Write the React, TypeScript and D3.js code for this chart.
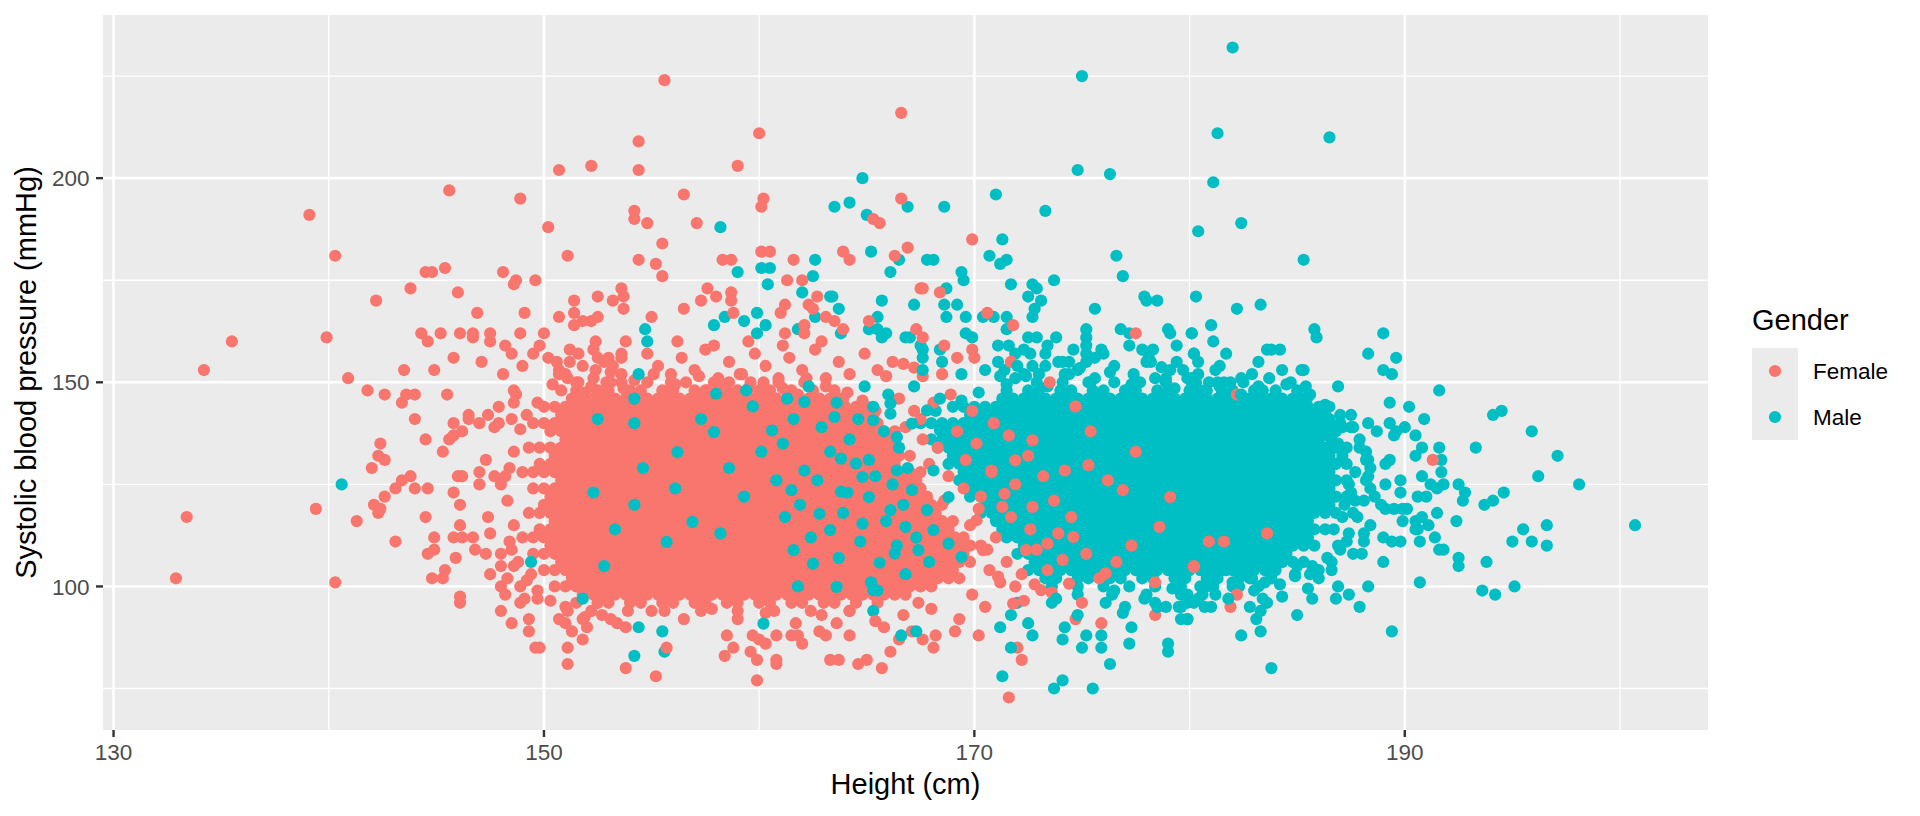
import * as d3 from 'd3'
import {useEffect, useRef} from 'react'

// scattered points read one by one: [height (cm), systolic (mmHg)]
const femaleScattered: [number, number][] = [
  [155.6,224],[154.4,209],[150.7,202],[152.2,203],[154.4,202],[145.6,197],[148.9,195],[139.1,191],[150.2,188],[154.2,192],
  [154.2,190],[154.8,189],[155.5,184],[140.3,181],[151.1,181],[154.4,180],[155.2,179],[155.5,176],[144.5,177],[144.8,177],
  [145.4,178],[148.1,177],[148.7,175],[148.6,174],[149.6,175],[143.8,173],[146,172],[142.2,170],[146.9,167],[149.1,167],
  [151.4,170],[152.5,171],[153.2,170],[153.6,173],[153.7,171],[153.7,168],[150.7,166],[151.4,167],[151.4,164],[151.8,165],
  [152.2,165],[152.5,166],[155,166],[135.5,160],[134.2,153],[139.9,161],[144.3,162],[144.6,160],[145.2,162],[146.1,162],
  [146.7,162],[146.7,161],[147.5,162],[147.5,160],[148.9,162],[150,162],[148.2,159],[148.5,157],[149.8,159],[149.5,157],
  [149,154],[148.1,152],[145.8,156],[147.1,155],[143.5,153],[144.9,153],[140.9,151],[150.2,156],[150.6,155],[151.2,158],
  [151.6,157],[151.2,155],[151.8,154],[152.4,160],[152.3,158],[152.5,156],[152.8,155],[153.2,154],[153.6,157],[153.6,156],
  [153.8,160],[152.3,151],[153.1,150],[150.7,153],[150.7,152],[151,152],[151.5,150],
  [141.8,148],[142.6,147],[143.6,147],[144,147],[143.4,145],[145.5,147],[144,141],[148.6,148],[148.7,147],[148.6,145],
  [147.9,144],[147.4,142],[147.9,140],[147.7,139],[148.5,141],[147,140],[146.5,142],[146.5,141],[145.8,140],[146.2,138],
  [145.6,136],[145.8,137],[145.3,133],[144.5,136],[142.4,135],[142.3,132],[142.6,131],[142,129],[143.8,127],[143.4,126],
  [143.1,124],[144,124],[144.6,124],[142.6,122],[142.1,120],[142.4,119],[142.3,118],[141.3,116],[139.4,119],[143.1,111],
  [133.4,117],[132.9,102],[140.3,101],[144.5,117],[144.9,112],[144.9,109],[144.6,108],[144.8,102],[145.3,102],[145.4,104],
  [145.9,107],[146.1,120],[146.1,115],[145.8,123],[146,127],[146.2,127],[147,125],[147,128],[147.3,131],[147.4,117],
  [146.7,112],[145.8,112],[146.2,112],[146.8,109],[147.3,108],[147.5,113],[147.7,127],[148.2,127],[148,125],[147.5,103],
  [146.1,96],[146.1,97.5],[148,108],[148,105],[148.6,105],[148.5,109],[148.3,102],[148,100],[148.2,98],[148,94],
  [148.5,91],[148.9,100],[149.1,97],[148.9,96],[149.3,92],[149.3,89],[149.6,85],[149.8,85],[149.4,103],[149.7,97],
  [151.1,85],[151.1,81],[150.7,92],[151,91],[151.3,89],[151.8,92],[152,90],[151.8,87],[151.1,94],[152.5,96],
  [152.7,93],[153.1,92],[153.8,90],[153.8,80],[155.2,78],
  [160,211],[166.6,216],[159,203],[156.5,196],[160.2,195],[160.1,193],[166.6,195],[165.3,190],[165.6,189],[157.1,189],
  [169.9,185],[160.1,182],[160.5,182],[158.3,180],[158.7,180],[161.6,180],[163.9,182],[164.2,180],[166.3,181],[166.9,183],
  [161.3,175],[162,175],[167.5,173],[167.6,173],[168.4,172],[170.6,167],[171.8,164],[157.6,173],[158,171],[158.7,172],
  [158.7,170],[158.8,167],[156.5,168],[157.3,170],[161,167],[161.2,169],[162.7,171],[162.3,169],[162.5,168],[162.1,164],
  [162.1,162],[161.2,162],[163.1,166],[163.5,165],[163.9,163],[165.1,165],[167.3,163],[167.6,161],[168.6,159],[169.9,158],
  [170,156],[177.5,162],[165.9,151.5],[166.7,154.5],[167.2,153.6],[167.6,151.5],[173.5,150],[171.7,155],
  [154.8,157],[155.3,154],[155.9,152],[156.4,156],[157,153],[157.5,158],[158.1,151],[158.6,155],[159.2,152],[159.8,157],
  [160.3,154],[160.9,151],[161.4,156],[162,153],[162.6,158],[163.1,151],[163.7,155],[164.2,152],[164.9,157],[165.5,153],
  [152.4,153],[153,156],[153.6,152],[156.2,160],[157.9,159],[159.5,160],[161.1,159],[162.9,160],[166.2,155],[168.5,152],
  [169.2,156],
  [159.9,77],[158.4,83],[158.8,85],[158.5,88],[159.6,84],[159.9,82],[160.8,82],[160.8,81],[159.7,88],[160,87],
  [160.3,86],[160.8,88],[161.5,88],[162,86],[161.8,88],[163.3,82],[163.7,82],[164.6,81],[165,82],[165.7,80],
  [166.1,84],[165.8,90],[164.2,88],[163.6,91],[162.8,89],[163.1,88],[166.5,87],[167.6,87],[168.1,85],[168.2,88],
  [167.1,89],[169.1,89],[170.2,88],[155.7,85],[171.6,72.8],[172,85],[172.2,82],[175.9,91],[174.7,92],[175,96],
  [178.4,93],[155,94],[156.5,92],[157.8,94.5],[159,92],[160.3,93.5],[161.7,91],[162.9,93],[164.2,94],[165.4,91.5],
  [166.7,93],[168,94.5],[169.3,92],[170.5,95],[153.4,91],[151.9,92.5],[167.4,96],[169.9,98],[171.2,101],[172.3,96.5],
  [173.6,98.5],
  [174.7,144.1],[172.7,135.8],[171.9,130.9],[171.4,122.7],[170.8,128.4],[172.7,119.5],[174.2,128.4],[175.3,129.7],[174.6,112.1],[173.4,110.5],
  [172.4,108.9],[176.1,103.2],[176.9,123.6],[178.6,114.6],[179.1,121.9],[180.2,104.8],[178.4,101],[174.4,100.7],[171.1,102.4],[170.4,108.9],
  [170.1,116.2],[173.1,99.1],[171.8,95.8],[191.3,131],[182.2,98],[181.9,95],[183.6,113],[180.9,111],[181.6,111],[180.2,105],
  [182.2,147],
]

const maleScattered: [number, number][] = [
  [154.7,163],[154.8,160],[154.4,152],[140.6,125],[149.4,106],[151.8,97],[152.5,141],[152.3,123],[152.8,105],[153.3,114],
  [154.2,146],[154.2,140],[154.6,129],[154.2,120],[154.4,90],[154.2,83],[155.5,89],[155.6,84],
  [175,225],[174.8,202],[176.3,201],[164.8,200],[171,196],[168.6,193],[166.9,193],[173.3,192],[165,191],[163.5,193],
  [164.2,194],[158.2,188],[171.3,185],[180.4,187],[162.6,180],[165.2,182],[166.5,180],[167.8,180],[168.1,180],[170.7,181],
  [171.2,179],[171.5,180],[176.6,181],[176.9,176],[159,177],[160.1,178],[160.5,178],[160.4,174],[162.5,176],[166.1,177],
  [169.4,177],[169.5,175],[171.7,174],[172.7,174],[172.9,173],[173.7,175],[177.9,171],[178,170],[178.5,170],[180.3,171],
  [175.6,168],[168.7,173],[172.5,171],[173.1,170],[172.8,168],[172.7,166],[167.2,169],[168.6,169],[169.2,169],[168.7,166],
  [169.6,166],[170.4,166],[170.9,166],[171.5,166],[171.5,163],[165.7,170],[163.3,171],[163.4,171],[163.7,168],[162,172],
  [159.9,167],[159.3,165],[160.3,164],[159.9,162],[158.4,166],[157.9,164],[162.6,166],[161.8,163],[163.8,162],[165.5,166],
  [165.1,163],[165.5,163],[165.9,162],[165.7,161],[166.8,161],[167,161],[167.5,159],[167.6,158],[167.6,156],[168.4,158],
  [169.6,162],[169.9,161],
  [172.5,161],[172.9,161],[173.8,161],[173.4,159],[173.3,157],[172.3,158],[171.1,159],[171.6,159],[171.9,157],[171.1,155],
  [171.4,153],[171.9,151],[174.6,158],[175.2,163],[175.2,161],[175.2,159],[175.2,157],[175.2,155],[175.9,158],[175.6,156],
  [176.8,163],[177.2,162],[177.2,159],[178.3,158],[178.1,156],[179,163],[179.1,162],[179.4,159],[180.1,162],[180.2,157],
  [179.4,155],[178.7,153.7],[178,155],[178.9,151],[174.1,155],[174.4,155],[174.2,152],[174.9,153.5],[172.7,154],[173.3,154],
  [172.3,152],
  [182,232],[181.3,211],[186.5,210],[181.1,199],[182.4,189],[185.3,180],[182.2,168],[183.3,169],[181,164],[180.1,162],
  [181.1,160],[185.8,163],[185.9,161],[189,162],[180.2,157],[180.4,155],[181.4,154],[181.7,157],[183.2,155],[183.6,158],
  [183.8,158],[184.2,158],[188.3,157],[189.6,156],[189,153],[189.4,152],[185.2,153],[185.3,153],[183.7,151],[179.7,153],
  [180.3,150],[180.9,150],[181.9,150],[185.4,149],[186.9,149],
  [191.6,148],[189.3,145],[190.2,144],[190.9,141],[194.1,142],[194.5,143],[195.9,138],[197.1,132],[193.3,134],[196.2,127],
  [198.1,125],[200.7,115],[194.6,123],[194.1,121],[193.7,120],[192.5,125],[192.8,123],[192.7,121],[192.4,116],[195.5,114],
  [196.6,115],[195,111],[195.9,111],[196.6,110],[193.8,106],[192.5,107],[192.5,105],[193.6,99],[194.2,98],[195.1,100],
  [190.7,101],[189.4,89],[183.8,80],[182.4,88],[183.3,89],[185,93],[187.9,95],[185.7,97],[187.4,98],[186.9,100],
  [188.3,100],[189,106],[190.7,111],[190.6,114],[190.5,116],[191.1,115],[191.5,118],[191.4,112],[191.6,109],[191.8,109],
  [190.8,127],[190.8,117],[191.7,128],[191.7,131],[191.6,134],[190.8,134],[190.5,132],[191.8,125],[191.5,124],[191,122],
  [190.6,122],[191.2,125],[189.8,126],[189.8,123],[189.1,125],[189.3,131],[189.1,130],[188.9,120],[189.1,119],[189.5,119],
  [189.9,119],[190.1,119],[189.9,116],[190.5,114],[188.4,115],[188.1,113],[188.1,111],[189,112],[189.4,111],[189.8,111],
  [190.5,137],[190,139],[189.6,138],[189.5,137],[189.3,140],[188.7,138],[188.3,140],[187.5,142],[187.5,139],[187.1,139],
  [186.5,141],[186.4,144],[185.9,141],[185.4,145],[185.1,143],[187.9,134],[188.2,133],[188.3,131],[188.4,129],[187.7,128],
  [188.2,126],[188.4,124],[188.6,122],[187.7,121],[187.4,125],[187.5,123],[187.2,120],[187.6,118],[187.1,117],[186.7,114],
  [187.3,111],[187.6,108],[188,108],[187,109],[186.6,106],[186.6,104],[186,104],[185.6,103],[186,102],[184.9,103],
  [185,105],[185.7,133],[186.2,137],[186.6,136],[186.9,135],[187.1,132],[184.3,106],[184,104],[183.5,101],[182.9,102],
  [182.3,100],[182,101],[181.7,104],[181.1,100],[180.5,100],[180.2,96],[180.7,95],[181,95],[179.9,92],[179.6,92],
  [179.6,95],[179.9,98],[182.8,95],[183.1,92],[183.4,97],[183.6,96],[183.3,94],
  [165.3,94],[165.5,99],[166.6,88],[167.3,89],[171.3,78],[171.7,85],[173.7,75],[174.1,77],[175.5,75],[176.3,81],
  [171.2,90],[172.5,91],[172.7,88],[171.7,93],[172,96],[174.2,90],[174.1,87],[175,85],[175.2,88],[175.9,88],
  [175.9,85],[177.3,90],[177.2,86],[179,86],[179,84],[178.4,96],[178.9,95],[179.5,95],[179.9,92],[179.9,96],
  [180.4,97],[177,95],[176.1,96],[174.8,93],[173.8,97],[173.6,96],
  [157.9,137.8],[158,147.2],[159.7,144.1],[161.1,135],[162.1,145.2],[161.3,146],[160.6,138.2],[163.5,141.5],[163.8,131.3],[164.5,130.1],
  [164.8,126.8],[165.1,121.9],[162.8,117.8],[163.3,113.8],[161.8,100],[162.1,128.4],[161.5,123.6],[156.9,115.8],[158.2,113],[155.7,110.9],
  [156.2,132.9],[163.6,99.9],[163.8,123.2],[164.8,115.4],[165.6,105.8],[166.3,108.1],[162.5,105.6],[161.6,108.9],[160.2,90.9],[165.3,140.7],
  [166.1,142.3],[166.4,136.6],[167.1,139.9],[167.8,143.1],[168.4,138.2],[169.1,132.5],[166.4,128.4],[167.1,123.6],[167.8,118.7],[166.1,118.7],
  [166.8,114.6],[168.1,113.8],[168.8,110.5],[169.4,107.2],[167.4,108.9],[165.3,99.1],[166.1,144.8],[168.1,128.4],[168.8,121.9],
  [180.1,151],[180.8,148],[181.6,150],[182.4,147],[183.2,149],[184,146],[184.7,150],[185.6,147],[181.2,153],[182.9,152],
  [184.3,153],[180.5,145.5],[183.6,144.5],[170.5,153],[171.2,151.5],[172,154],[173,152],[173.9,155],[174.8,153],[175.6,151],
  [176.5,154],[177.4,152],[178.2,155],[179.1,153],[179.9,151],[176,157],[177.8,158],[172.6,157],[169.4,152],[168.5,155],
  [167.6,153],[176.5,99],[177.9,97],[179.2,99.5],[180.6,98],[181.8,97],[183,99],[184.3,97.5],[185.5,99.5],[186.8,97],
  [178.5,95],[176.9,93.5],
]

// where the two clouds meet, red and teal dots sit over each other
const femaleMixed: [number, number][] = [
  [166.5,146],[167.2,143],[166.8,139],[167.6,136],[168.3,134],[167.9,130],[168.8,127],[169.5,124],[168.6,121],[170.2,119],
  [169.8,115],[171,112],[170.6,109],[171.5,106],[172.2,103],[171.9,100],[167.5,141],[168.1,145],[169.2,138],[170.1,135],
  [169.6,131],[170.8,128],[170.3,122],[171.7,117],[172.6,114],[172.9,109],[173.4,104],[168.9,147],[169.9,143],[170.9,140],
  [171.6,137],[172.5,132],[173.2,127],[171.9,125],[173.7,121],[174.5,117],[173.9,113],[175.2,108],[175.8,102],[176.6,106],
  [177.3,110],[176.2,126],[177.5,133],[175.4,138],[168.2,118],[169.1,112],[170.7,104],[172.8,100.5],[174.1,106.5],[171.3,119.5],
]

const maleMixed: [number, number][] = [
  [166,147],[165.3,144],[164.6,141],[165.8,138],[166.5,134],[165.1,131],[164.2,136],[163.6,145],[162.9,139],[163.3,133],
  [166.9,129],[166.2,125],[165.4,127],[164.1,123],[166.7,120],[165.9,116],[167.3,112],[166.4,110],[164.7,111],[167.9,106],
  [166.8,103],[165.2,101],[163.7,107],[162.4,112],[161.9,120],[160.8,126],[160.1,133],[161.6,141],[159.4,148],[162.3,149],
  [164.9,149],[167.2,149],[168.4,146],[163.9,118],[162.7,126],[161.2,117],[159.3,122],[158.6,129],[157.3,141],[156.1,124],
]

// ragged rims of the two clouds
const femaleFringe: [number, number][] = [
  [150.4,149.5],[151.1,151],[152.2,149],[153.1,152.5],[154.2,150.5],[155.1,152],[156.1,149.5],[157.2,151.5],[158.1,149],[159.1,152],
  [160.2,150],[161.1,148.5],[162.2,151],[163.1,149],[164.1,147.5],[164.8,145.5],[165.4,143],[151.9,147.5],[153.7,148.5],[155.7,147.5],
  [157.6,148],[159.5,148.5],[161.8,147],[163.9,146],[149.7,145],[149.2,142],[148.9,138.5],[148.6,133],[148.4,129],[148.3,121],
  [148.6,115],[148.4,111],[148.8,106],[149.2,101.5],[149.7,99],[150.3,96.5],[151,95],
]

const maleFringe: [number, number][] = [
  [171.5,149.5],[172.4,151.5],[173.4,149],[174.4,152],[175.4,150],[176.3,152.5],[177.3,149.5],[178.4,151],[179.3,148.5],[180.4,152],
  [181.4,149],[182.4,151],[183.4,148],[184.5,149.5],[185.5,146.5],[186.3,144.5],[187,142],[170.2,147.5],[169.4,145.5],[168.2,143],
  [187.6,139],[187.9,136],[188.2,131],[188.3,127],[188.1,121],[187.8,117],[187.4,113],[186.9,110],[186.4,107],[185.7,105],
  [184.9,102.5],[184.2,100.5],
]

// the solid clouds, read row by row: [systolic, heights along that row]
const femaleCoreRows: [number, number[]][] = [
  [150, [151.6,152.9,153.6,154.8,155.9,156.6,157.9,158.6,159.6,160.9,162.1]],
  [148, [150.8,151.5,152.5,153,154,154.5,155.5,156,157,157.5,158.5,159,160,160.5,161.5,162.5,163.5]],
  [146, [151.3,151.8,152.3,152.8,153.3,153.8,154.3,154.8,155.3,155.8,156.3,156.8,157.3,157.8,158.3,158.8,159.3,159.8,160.3,160.8,161.3,161.8,162.3,162.8,163.3,163.8]],
  [144, [150,150.5,151,151.5,152,152.5,153,153.5,154,154.5,155,155.5,156,156.5,157,157.5,158,158.5,159,159.5,160,160.5,161,161.5,162,162.5,163,163.5,164,164.5,165]],
  [142, [150.8,151.3,151.8,152.3,152.8,153.3,153.8,154.3,154.8,155.3,155.8,156.3,156.8,157.3,157.8,158.3,158.8,159.3,159.8,160.3,160.8,161.3,161.8,162.3,162.8,163.3,163.8,164.3,164.8,165.3]],
  [140, [149.5,150,150.5,151,151.5,152,152.5,153,153.5,154,154.5,155,155.5,156,156.5,157,157.5,158,158.5,159,159.5,160,160.5,161,161.5,162,162.5,163,163.5,164,164.5,165,165.5]],
  [138, [150.3,150.8,151.3,151.8,152.3,152.8,153.3,153.8,154.3,154.8,155.3,155.8,156.3,156.8,157.3,157.8,158.3,158.8,159.3,159.8,160.3,160.8,161.3,161.8,162.3,162.8,163.3,163.8,164.3,164.8,165.3,165.8,166.3]],
  [136, [151,151.5,152,152.5,153,153.5,154,154.5,155,155.5,156,156.5,157,157.5,158,158.5,159,159.5,160,160.5,161,161.5,162,162.5,163,163.5,164,164.5,165,165.5,166]],
  [134, [149.3,149.8,150.3,150.8,151.3,151.8,152.3,152.8,153.3,153.8,154.3,154.8,155.3,155.8,156.3,156.8,157.3,157.8,158.3,158.8,159.3,159.8,160.3,160.8,161.3,161.8,162.3,162.8,163.3,163.8,164.3,164.8,165.3,165.8,166.3]],
  [132, [150.5,151,151.5,152,152.5,153,153.5,154,154.5,155,155.5,156,156.5,157,157.5,158,158.5,159,159.5,160,160.5,161,161.5,162,162.5,163,163.5,164,164.5,165,165.5,166,166.5,167]],
  [130, [149.8,150.3,150.8,151.3,151.8,152.3,152.8,153.3,153.8,154.3,154.8,155.3,155.8,156.3,156.8,157.3,157.8,158.3,158.8,159.3,159.8,160.3,160.8,161.3,161.8,162.3,162.8,163.3,163.8,164.3,164.8,165.3,165.8,166.3]],
  [128, [149,149.5,150,150.5,151,151.5,152,152.5,153,153.5,154,154.5,155,155.5,156,156.5,157,157.5,158,158.5,159,159.5,160,160.5,161,161.5,162,162.5,163,163.5,164,164.5,165,165.5,166,166.5,167,167.5]],
  [126, [150.8,151.3,151.8,152.3,152.8,153.3,153.8,154.3,154.8,155.3,155.8,156.3,156.8,157.3,157.8,158.3,158.8,159.3,159.8,160.3,160.8,161.3,161.8,162.3,162.8,163.3,163.8,164.3,164.8,165.3,165.8,166.3,166.8,167.3]],
  [124, [149.5,150,150.5,151,151.5,152,152.5,153,153.5,154,154.5,155,155.5,156,156.5,157,157.5,158,158.5,159,159.5,160,160.5,161,161.5,162,162.5,163,163.5,164,164.5,165,165.5,166,166.5,167,167.5]],
  [122, [150.3,150.8,151.3,151.8,152.3,152.8,153.3,153.8,154.3,154.8,155.3,155.8,156.3,156.8,157.3,157.8,158.3,158.8,159.3,159.8,160.3,160.8,161.3,161.8,162.3,162.8,163.3,163.8,164.3,164.8,165.3,165.8,166.3,166.8,167.3,167.8]],
  [120, [150,150.5,151,151.5,152,152.5,153,153.5,154,154.5,155,155.5,156,156.5,157,157.5,158,158.5,159,159.5,160,160.5,161,161.5,162,162.5,163,163.5,164,164.5,165,165.5,166,166.5,167,167.5,168,168.5]],
  [118, [149.3,149.8,150.3,150.8,151.3,151.8,152.3,152.8,153.3,153.8,154.3,154.8,155.3,155.8,156.3,156.8,157.3,157.8,158.3,158.8,159.3,159.8,160.3,160.8,161.3,161.8,162.3,162.8,163.3,163.8,164.3,164.8,165.3,165.8,166.3,166.8,167.3,167.8]],
  [116, [150.5,151,151.5,152,152.5,153,153.5,154,154.5,155,155.5,156,156.5,157,157.5,158,158.5,159,159.5,160,160.5,161,161.5,162,162.5,163,163.5,164,164.5,165,165.5,166,166.5,167,167.5,168,168.5,169]],
  [114, [149.8,150.3,150.8,151.3,151.8,152.3,152.8,153.3,153.8,154.3,154.8,155.3,155.8,156.3,156.8,157.3,157.8,158.3,158.8,159.3,159.8,160.3,160.8,161.3,161.8,162.3,162.8,163.3,163.8,164.3,164.8,165.3,165.8,166.3,166.8,167.3,167.8,168.3,168.8]],
  [112, [149,149.5,150,150.5,151,151.5,152,152.5,153,153.5,154,154.5,155,155.5,156,156.5,157,157.5,158,158.5,159,159.5,160,160.5,161,161.5,162,162.5,163,163.5,164,164.5,165,165.5,166,166.5,167,167.5,168,168.5,169,169.5]],
  [110, [150.3,150.8,151.3,151.8,152.3,152.8,153.3,153.8,154.3,154.8,155.3,155.8,156.3,156.8,157.3,157.8,158.3,158.8,159.3,159.8,160.3,160.8,161.3,161.8,162.3,162.8,163.3,163.8,164.3,164.8,165.3,165.8,166.3,166.8,167.3,167.8,168.3,168.8,169.3,169.8,170.3]],
  [108, [149.5,150,150.5,151,151.5,152,152.5,153,153.5,154,154.5,155,155.5,156,156.5,157,157.5,158,158.5,159,159.5,160,160.5,161,161.5,162,162.5,163,163.5,164,164.5,165,165.5,166,166.5,167,167.5,168,168.5,169,169.5]],
  [106, [150.8,151.3,151.8,152.3,152.8,153.3,153.8,154.3,154.8,155.3,155.8,156.3,156.8,157.3,157.8,158.3,158.8,159.3,159.8,160.3,160.8,161.3,161.8,162.3,162.8,163.3,163.8,164.3,164.8,165.3,165.8,166.3,166.8,167.3,167.8,168.3,168.8,169.3,169.8]],
  [104, [150,150.5,151,151.5,152,152.5,153,153.5,154,154.5,155,155.5,156,156.5,157,157.5,158,158.5,159,159.5,160,160.5,161,161.5,162,162.5,163,163.5,164,164.5,165,165.5,166,166.5,167,167.5,168,168.5,169]],
  [102, [151.3,151.8,152.3,152.8,153.3,153.8,154.3,154.8,155.3,155.8,156.3,156.8,157.3,157.8,158.3,158.8,159.3,159.8,160.3,160.8,161.3,161.8,162.3,162.8,163.3,163.8,164.3,164.8,165.3,165.8,166.3,166.8,167.3,167.8,168.3,168.8,169.3]],
  [100, [150.5,151,151.5,152,152.5,153,153.5,154,154.5,155,155.5,156,156.5,157,157.5,158,158.5,159,159.5,160,160.5,161,161.5,162,162.5,163,163.5,164,164.5,165,165.5,166,166.5,167,167.5,168]],
  [98, [151.8,152.3,152.8,153.3,153.8,154.3,154.8,155.3,155.8,156.3,156.8,157.3,157.8,158.3,158.8,159.3,159.8,160.3,160.8,161.3,161.8,162.3,162.8,163.3,163.8,164.3,164.8,165.3,165.8,166.3,166.8]],
  [96, [151.5,152.5,153,154,154.5,155.5,156,157,157.5,158.5,159,160,160.5,161.5,162,163,163.5,164.5,165.5]],
  [94, [152.2,153.9,155.6,157.3,159,160.7,162.4,164.2]],
]

// male cloud, upper half (drawn over the female cloud) and lower half (drawn under it)
const maleCoreUpperRows: [number, number[]][] = [
  [150, [172.9,174.1,175.3,176.5,177.7,178.9,180.1,181.3,182.5]],
  [148, [171.5,172.5,173,174,174.5,175.5,176,177,177.5,178.5,179,180,180.5,181.5,182,183,184,185]],
  [146, [171.3,171.8,172.3,172.8,173.3,173.8,174.3,174.8,175.3,175.8,176.3,176.8,177.3,177.8,178.3,178.8,179.3,179.8,180.3,180.8,181.3,181.8,182.3,182.8,183.3,183.8,184.3,184.8,185.3]],
  [144, [169,169.5,170,170.5,171,171.5,172,172.5,173,173.5,174,174.5,175,175.5,176,176.5,177,177.5,178,178.5,179,179.5,180,180.5,181,181.5,182,182.5,183,183.5,184,184.5,185,185.5,186,186.5]],
  [142, [169.8,170.3,170.8,171.3,171.8,172.3,172.8,173.3,173.8,174.3,174.8,175.3,175.8,176.3,176.8,177.3,177.8,178.3,178.8,179.3,179.8,180.3,180.8,181.3,181.8,182.3,182.8,183.3,183.8,184.3,184.8,185.3,185.8,186.3]],
  [140, [167.5,168,168.5,169,169.5,170,170.5,171,171.5,172,172.5,173,173.5,174,174.5,175,175.5,176,176.5,177,177.5,178,178.5,179,179.5,180,180.5,181,181.5,182,182.5,183,183.5,184,184.5,185,185.5,186,186.5,187]],
  [138, [168.8,169.3,169.8,170.3,170.8,171.3,171.8,172.3,172.8,173.3,173.8,174.3,174.8,175.3,175.8,176.3,176.8,177.3,177.8,178.3,178.8,179.3,179.8,180.3,180.8,181.3,181.8,182.3,182.8,183.3,183.8,184.3,184.8,185.3,185.8,186.3,186.8]],
  [136, [168,168.5,169,169.5,170,170.5,171,171.5,172,172.5,173,173.5,174,174.5,175,175.5,176,176.5,177,177.5,178,178.5,179,179.5,180,180.5,181,181.5,182,182.5,183,183.5,184,184.5,185,185.5,186]],
  [134, [168.3,168.8,169.3,169.8,170.3,170.8,171.3,171.8,172.3,172.8,173.3,173.8,174.3,174.8,175.3,175.8,176.3,176.8,177.3,177.8,178.3,178.8,179.3,179.8,180.3,180.8,181.3,181.8,182.3,182.8,183.3,183.8,184.3,184.8,185.3,185.8,186.3,186.8,187.3]],
  [132, [169,169.5,170,170.5,171,171.5,172,172.5,173,173.5,174,174.5,175,175.5,176,176.5,177,177.5,178,178.5,179,179.5,180,180.5,181,181.5,182,182.5,183,183.5,184,184.5,185,185.5,186,186.5]],
  [130, [168.8,169.3,169.8,170.3,170.8,171.3,171.8,172.3,172.8,173.3,173.8,174.3,174.8,175.3,175.8,176.3,176.8,177.3,177.8,178.3,178.8,179.3,179.8,180.3,180.8,181.3,181.8,182.3,182.8,183.3,183.8,184.3,184.8,185.3,185.8,186.3,186.8,187.3]],
  [128, [169.5,170,170.5,171,171.5,172,172.5,173,173.5,174,174.5,175,175.5,176,176.5,177,177.5,178,178.5,179,179.5,180,180.5,181,181.5,182,182.5,183,183.5,184,184.5,185,185.5,186,186.5]],
  [126, [169.3,169.8,170.3,170.8,171.3,171.8,172.3,172.8,173.3,173.8,174.3,174.8,175.3,175.8,176.3,176.8,177.3,177.8,178.3,178.8,179.3,179.8,180.3,180.8,181.3,181.8,182.3,182.8,183.3,183.8,184.3,184.8,185.3,185.8,186.3,186.8,187.3]],
  [124, [170,170.5,171,171.5,172,172.5,173,173.5,174,174.5,175,175.5,176,176.5,177,177.5,178,178.5,179,179.5,180,180.5,181,181.5,182,182.5,183,183.5,184,184.5,185,185.5,186,186.5]],
  [122, [169.8,170.3,170.8,171.3,171.8,172.3,172.8,173.3,173.8,174.3,174.8,175.3,175.8,176.3,176.8,177.3,177.8,178.3,178.8,179.3,179.8,180.3,180.8,181.3,181.8,182.3,182.8,183.3,183.8,184.3,184.8,185.3,185.8,186.3,186.8,187.3]],
  [120, [170.5,171,171.5,172,172.5,173,173.5,174,174.5,175,175.5,176,176.5,177,177.5,178,178.5,179,179.5,180,180.5,181,181.5,182,182.5,183,183.5,184,184.5,185,185.5,186,186.5]],
]

const maleCoreLowerRows: [number, number[]][] = [
  [118, [170.3,170.8,171.3,171.8,172.3,172.8,173.3,173.8,174.3,174.8,175.3,175.8,176.3,176.8,177.3,177.8,178.3,178.8,179.3,179.8,180.3,180.8,181.3,181.8,182.3,182.8,183.3,183.8,184.3,184.8,185.3,185.8,186.3,186.8]],
  [116, [171,171.5,172,172.5,173,173.5,174,174.5,175,175.5,176,176.5,177,177.5,178,178.5,179,179.5,180,180.5,181,181.5,182,182.5,183,183.5,184,184.5,185,185.5]],
  [114, [171.3,171.8,172.3,172.8,173.3,173.8,174.3,174.8,175.3,175.8,176.3,176.8,177.3,177.8,178.3,178.8,179.3,179.8,180.3,180.8,181.3,181.8,182.3,182.8,183.3,183.8,184.3,184.8,185.3,185.8,186.3]],
  [112, [171.5,172,172.5,173,173.5,174,174.5,175,175.5,176,176.5,177,177.5,178,178.5,179,179.5,180,180.5,181,181.5,182,182.5,183,183.5,184,184.5,185,185.5]],
  [110, [172.3,172.8,173.3,173.8,174.3,174.8,175.3,175.8,176.3,176.8,177.3,177.8,178.3,178.8,179.3,179.8,180.3,180.8,181.3,181.8,182.3,182.8,183.3,183.8,184.3,184.8,185.3,185.8]],
  [108, [172,172.5,173,173.5,174,174.5,175,175.5,176,176.5,177,177.5,178,178.5,179,179.5,180,180.5,181,181.5,182,182.5,183,183.5,184,184.5]],
  [106, [172.8,173.3,173.8,174.3,174.8,175.3,175.8,176.3,176.8,177.3,177.8,178.3,178.8,179.3,179.8,180.3,180.8,181.3,181.8,182.3,182.8,183.3,183.8,184.3,184.8,185.3]],
  [104, [172.5,173,173.5,174,174.5,175,175.5,176,176.5,177,177.5,178,178.5,179,179.5,180,180.5,181,181.5,182,182.5,183,183.5]],
  [102, [173.3,173.8,174.8,175.3,176.3,176.8,177.8,178.3,179.3,179.8,180.8,181.3,182.3,182.8,183.8]],
  [100, [173.6,174.8,176,177.2,178.4,179.6,180.8,182,183.2]],
  [98, [174.8,176.4,178,179.6,181.2]],
]

const genders = ['Female', 'Male']
const genderColors = ['#F8766D', '#00BFC4']
const xBreaks = [130, 150, 170, 190]
const xMinorBreaks = [140, 160, 180, 200]
const yBreaks = [100, 150, 200]
const yMinorBreaks = [75, 125, 175, 225]

type Pt = {h: number; s: number; g: number}

const rowsToPoints = (rows: [number, number[]][], g: number): Pt[] =>
  rows.flatMap(([s, hs]) => hs.map(h => ({h, s, g})))

function interleave(a: [number, number][], b: [number, number][]): Pt[] {
  const out: Pt[] = []
  for (let i = 0; i < Math.max(a.length, b.length); i++) {
    if (i < a.length) out.push({h: a[i][0], s: a[i][1], g: 0})
    if (i < b.length) out.push({h: b[i][0], s: b[i][1], g: 1})
  }
  return out
}

export default function App() {
  const ref = useRef<SVGSVGElement>(null)

  useEffect(() => {
    const svg = d3.select(ref.current)
    svg.selectAll('*').remove()
    const font = "'Liberation Sans', Arial, Helvetica, sans-serif"
    const panel = {left: 103, top: 15, right: 1708, bottom: 730}

    // clouds first, then the loose points interleaved the way the data order mixes them
    const points = [
      ...rowsToPoints(maleCoreLowerRows, 1),
      ...rowsToPoints(femaleCoreRows, 0),
      ...rowsToPoints(maleCoreUpperRows, 1),
      ...interleave(femaleFringe, maleFringe),
      ...interleave(femaleMixed, maleMixed),
      ...interleave(femaleScattered, maleScattered),
    ]

    const [hMin, hMax] = d3.extent(points, d => d.h) as [number, number]
    const [sMin, sMax] = d3.extent(points, d => d.s) as [number, number]
    const hPad = (hMax - hMin) * 0.05
    const sPad = (sMax - sMin) * 0.05
    const x = d3.scaleLinear().domain([hMin - hPad, hMax + hPad]).range([panel.left, panel.right])
    const y = d3.scaleLinear().domain([sMin - sPad, sMax + sPad]).range([panel.bottom, panel.top])

    svg.append('rect').attr('width', 1920).attr('height', 816).attr('fill', '#ffffff')
    svg
      .append('rect')
      .attr('x', panel.left)
      .attr('y', panel.top)
      .attr('width', panel.right - panel.left)
      .attr('height', panel.bottom - panel.top)
      .attr('fill', '#EBEBEB')

    const grid = svg.append('g').attr('stroke', '#ffffff')
    grid
      .selectAll('.vminor')
      .data(xMinorBreaks)
      .enter()
      .append('line')
      .attr('x1', d => x(d))
      .attr('x2', d => x(d))
      .attr('y1', panel.top)
      .attr('y2', panel.bottom)
      .attr('stroke-width', 1.3)
    grid
      .selectAll('.hminor')
      .data(yMinorBreaks)
      .enter()
      .append('line')
      .attr('x1', panel.left)
      .attr('x2', panel.right)
      .attr('y1', d => y(d))
      .attr('y2', d => y(d))
      .attr('stroke-width', 1.3)
    grid
      .selectAll('.vmajor')
      .data(xBreaks)
      .enter()
      .append('line')
      .attr('x1', d => x(d))
      .attr('x2', d => x(d))
      .attr('y1', panel.top)
      .attr('y2', panel.bottom)
      .attr('stroke-width', 2.6)
    grid
      .selectAll('.hmajor')
      .data(yBreaks)
      .enter()
      .append('line')
      .attr('x1', panel.left)
      .attr('x2', panel.right)
      .attr('y1', d => y(d))
      .attr('y2', d => y(d))
      .attr('stroke-width', 2.6)

    svg
      .append('g')
      .selectAll('circle')
      .data(points)
      .enter()
      .append('circle')
      .attr('cx', d => x(d.h))
      .attr('cy', d => y(d.s))
      .attr('r', 6.1)
      .attr('fill', d => genderColors[d.g])

    // ticks and tick labels
    const axes = svg.append('g')
    axes
      .selectAll('.xt')
      .data(xBreaks)
      .enter()
      .append('line')
      .attr('x1', d => x(d))
      .attr('x2', d => x(d))
      .attr('y1', panel.bottom)
      .attr('y2', panel.bottom + 7)
      .attr('stroke', '#333333')
      .attr('stroke-width', 2.4)
    axes
      .selectAll('.xl')
      .data(xBreaks)
      .enter()
      .append('text')
      .attr('x', d => x(d))
      .attr('y', 760)
      .attr('text-anchor', 'middle')
      .attr('font-family', font)
      .attr('font-size', 22.5)
      .attr('fill', '#4D4D4D')
      .text(d => d)
    axes
      .selectAll('.yt')
      .data(yBreaks)
      .enter()
      .append('line')
      .attr('x1', panel.left - 7)
      .attr('x2', panel.left)
      .attr('y1', d => y(d))
      .attr('y2', d => y(d))
      .attr('stroke', '#333333')
      .attr('stroke-width', 2.4)
    axes
      .selectAll('.yl')
      .data(yBreaks)
      .enter()
      .append('text')
      .attr('x', 89.5)
      .attr('y', d => y(d))
      .attr('dy', '0.36em')
      .attr('text-anchor', 'end')
      .attr('font-family', font)
      .attr('font-size', 22.5)
      .attr('fill', '#4D4D4D')
      .text(d => d)

    svg
      .append('text')
      .attr('x', (panel.left + panel.right) / 2)
      .attr('y', 794)
      .attr('text-anchor', 'middle')
      .attr('font-family', font)
      .attr('font-size', 29)
      .attr('fill', '#000000')
      .text('Height (cm)')
    svg
      .append('text')
      .attr('transform', 'translate(36,' + (panel.top + panel.bottom) / 2 + ') rotate(-90)')
      .attr('text-anchor', 'middle')
      .attr('font-family', font)
      .attr('font-size', 29)
      .attr('fill', '#000000')
      .text('Systolic blood pressure (mmHg)')

    // legend
    const legend = svg.append('g')
    legend
      .append('text')
      .attr('x', 1752)
      .attr('y', 330)
      .attr('font-family', font)
      .attr('font-size', 29)
      .attr('fill', '#000000')
      .text('Gender')
    legend
      .append('rect')
      .attr('x', 1752)
      .attr('y', 348)
      .attr('width', 46)
      .attr('height', 92)
      .attr('fill', '#EBEBEB')
    const keys = legend
      .selectAll('.key')
      .data(genders)
      .enter()
      .append('g')
      .attr('transform', (_, i) => 'translate(1775,' + (371 + i * 46) + ')')
    keys
      .append('circle')
      .attr('r', 6.1)
      .attr('fill', (_, i) => genderColors[i])
    keys
      .append('text')
      .attr('x', 38)
      .attr('dy', '0.36em')
      .attr('font-family', font)
      .attr('font-size', 22.5)
      .attr('fill', '#000000')
      .text(d => d)
  }, [])

  return (
    <svg
      ref={ref}
      width={1920}
      height={816}
      style={{position: 'absolute', left: 0, top: 0, display: 'block'}}
    />
  )
}
